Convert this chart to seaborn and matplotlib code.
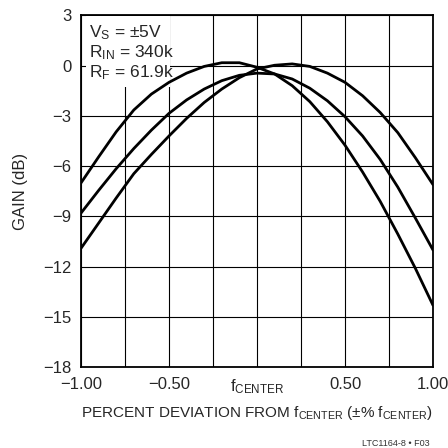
import pandas as pd
import numpy as np
import matplotlib
matplotlib.use("Agg")
import matplotlib.pyplot as plt
import seaborn as sns
from matplotlib.patches import Rectangle

# 데이터
deviation = [-1.0, -0.9, -0.8, -0.7, -0.6, -0.5, -0.4, -0.3, -0.2, -0.1, 0.0,
             0.1, 0.2, 0.3, 0.4, 0.5, 0.6, 0.7, 0.8, 0.9, 1.0]
gain_a = [-7.0, -5.45, -3.95, -2.65, -1.7, -1.0, -0.45, -0.05, 0.17, 0.17, -0.1,
          -0.5, -1.2, -2.15, -3.35, -4.75, -6.35, -8.1, -10.05, -12.1, -14.3]
gain_b = [-8.8, -7.45, -6.15, -4.95, -3.85, -2.85, -2.05, -1.4, -0.9, -0.58, -0.45,
          -0.5, -0.8, -1.35, -2.1, -3.05, -4.2, -5.6, -7.25, -9.1, -11.0]
gain_c = [-10.9, -9.4, -7.9, -6.45, -5.3, -4.2, -3.15, -2.2, -1.4, -0.72, -0.2,
          0.02, 0.1, -0.05, -0.45, -1.0, -1.8, -2.8, -4.0, -5.5, -7.1]

x_ticks = [-1.0, -0.5, 0.0, 0.5, 1.0]
x_tick_labels = ["\u22121.00", "\u22120.50", r"$\mathregular{f_{CENTER}}$", "0.50", "1.00"]
y_ticks = [3, 0, -3, -6, -9, -12, -15, -18]
y_tick_labels = ["3", "0", "\u22123", "\u22126", "\u22129", "\u221212", "\u221215", "\u221218"]

df = pd.DataFrame({
    "dev": deviation * 3,
    "gain": gain_a + gain_b + gain_c,
    "curve": ["A"] * len(deviation) + ["B"] * len(deviation) + ["C"] * len(deviation),
})

sns.set_style("white")
plt.rcParams["font.family"] = ["Liberation Sans", "DejaVu Sans"]

fig = plt.figure(figsize=(4.48, 4.48), dpi=100)
ax = fig.add_axes([81 / 448, 1 - 367.3 / 448, 352 / 448, 352 / 448])

sns.lineplot(data=df, x="dev", y="gain", hue="curve", palette=["black"] * 3,
             linewidth=2.0, legend=False, ax=ax, zorder=3)

ax.set_xlim(-1, 1)
ax.set_ylim(-18, 3)
ax.set_xticks(x_ticks)
ax.set_xticklabels(x_tick_labels, fontsize=12)
ax.set_xticks(np.arange(-1, 1.01, 0.25), minor=True)
ax.set_yticks(y_ticks)
ax.set_yticklabels(y_tick_labels, fontsize=12)
ax.tick_params(axis="both", which="both", length=0, pad=7)
ax.grid(True, which="both", color="black", linewidth=0.8)
ax.set_axisbelow(True)
for s in ax.spines.values():
    s.set_color("black")
    s.set_linewidth(1.3)

ax.set_xlabel(r"PERCENT DEVIATION FROM $\mathregular{f_{CENTER}}$ (±% $\mathregular{f_{CENTER}}$)",
              fontsize=11, labelpad=6)
ax.set_ylabel("GAIN (dB)", fontsize=12, labelpad=11)

# 조건 표시 박스
ax.add_patch(Rectangle((5 / 352, 1 - 71.5 / 352), 84 / 352, 71 / 352,
                       transform=ax.transAxes, facecolor="white", edgecolor="none", zorder=1.5))
for i, line in enumerate([r"$\mathregular{V_S}$ = ±5V",
                          r"$\mathregular{R_{IN}}$ = 340k",
                          r"$\mathregular{R_F}$ = 61.9k"]):
    ax.text(8 / 352, 1 - (17 + 20 * i) / 352, line, transform=ax.transAxes,
            fontsize=12.5, va="center", ha="left", zorder=4)

fig.text(396 / 448, 1 - 443 / 448, "LTC1164-8 \u2022 F03", fontsize=6.5,
         ha="center", va="center", color="#333333")

plt.savefig("out.png", dpi=100)
plt.close()
